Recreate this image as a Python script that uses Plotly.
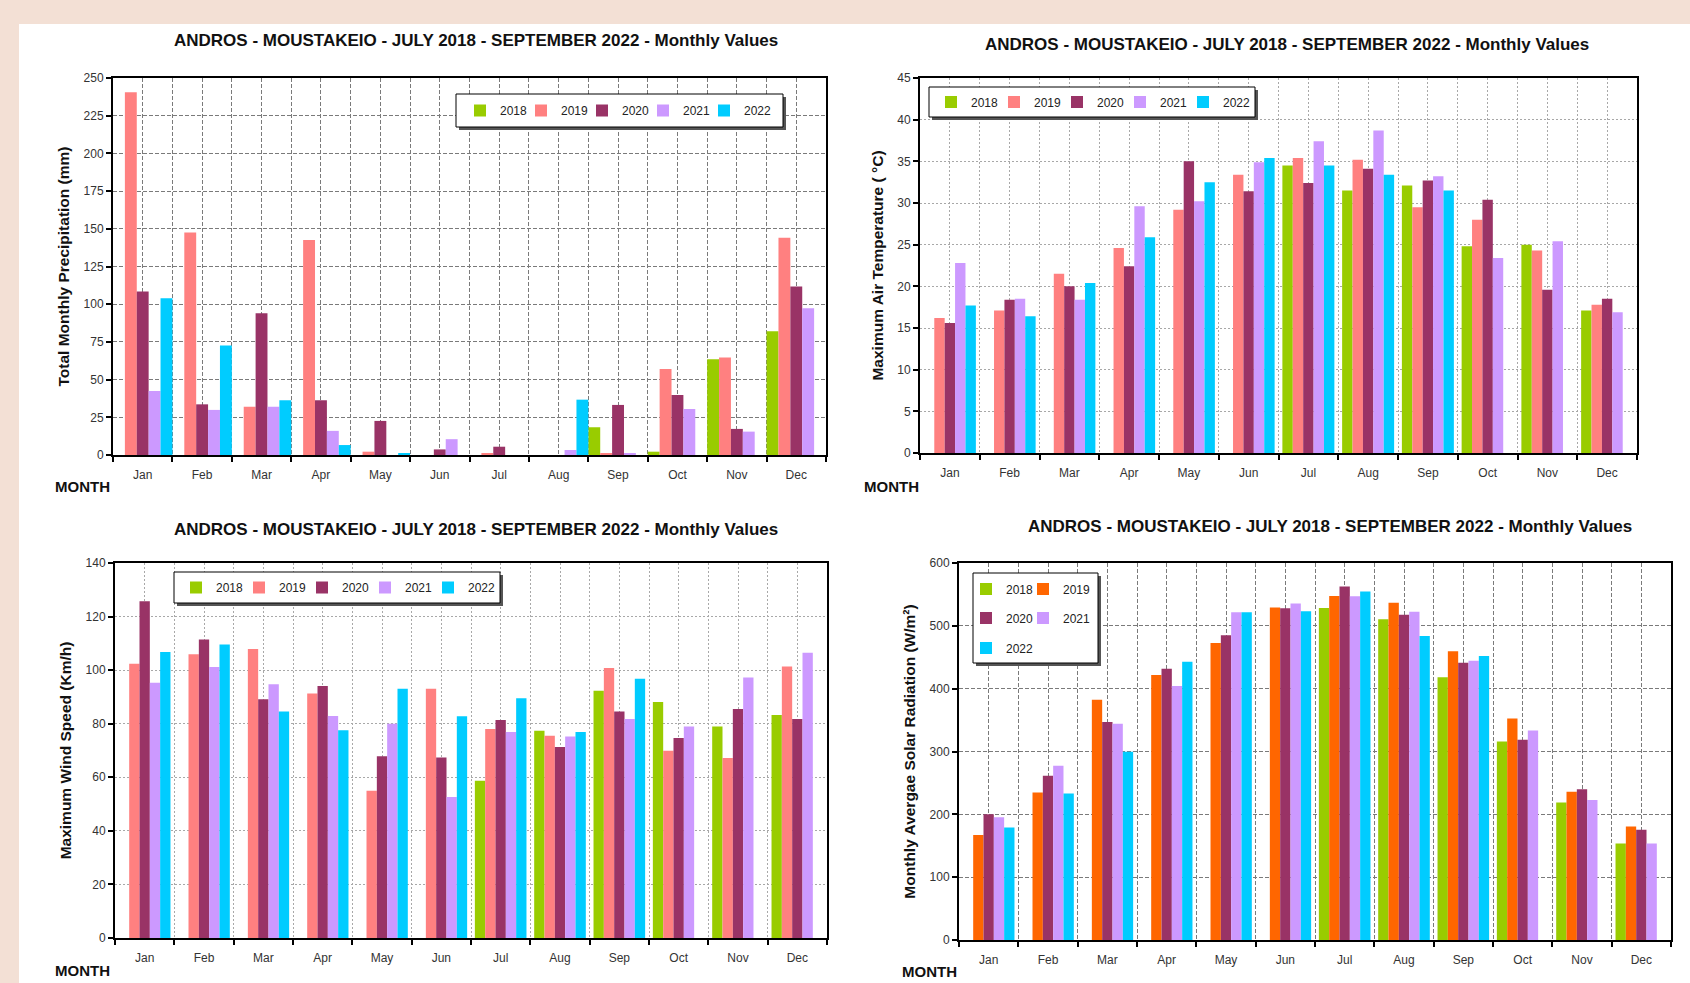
import plotly.graph_objects as go

# ---------------- data ----------------
MONTHS = ["Jan", "Feb", "Mar", "Apr", "May", "Jun", "Jul", "Aug", "Sep", "Oct", "Nov", "Dec"]
YEARS = ["2018", "2019", "2020", "2021", "2022"]
N = None

PRECIP_2018 = [N, N, N, N, N, N, 0, 0, 18.4, 2.2, 63.5, 82.0]
PRECIP_2019 = [240.5, 147.5, 32.0, 142.5, 2.2, 0, 0.7, 0, 1.0, 57.0, 64.6, 144.0]
PRECIP_2020 = [108.4, 33.6, 94.0, 36.3, 22.6, 3.7, 5.5, 0, 33.2, 39.8, 17.3, 111.7]
PRECIP_2021 = [42.5, 29.9, 32.0, 16.0, 0, 10.5, 0, 3.3, 1.0, 30.5, 15.5, 97.3]
PRECIP_2022 = [104.0, 72.6, 36.3, 6.6, 1.2, 0, 0, 36.7, 0, N, N, N]

TEMP_2018 = [N, N, N, N, N, N, 34.5, 31.5, 32.1, 24.8, 25.0, 17.1]
TEMP_2019 = [16.2, 17.1, 21.5, 24.6, 29.2, 33.4, 35.4, 35.2, 29.5, 28.0, 24.3, 17.8]
TEMP_2020 = [15.6, 18.4, 20.0, 22.4, 35.0, 31.4, 32.4, 34.1, 32.7, 30.4, 19.6, 18.5]
TEMP_2021 = [22.8, 18.5, 18.4, 29.6, 30.2, 34.9, 37.4, 38.7, 33.2, 23.4, 25.4, 16.9]
TEMP_2022 = [17.7, 16.4, 20.4, 25.9, 32.5, 35.4, 34.5, 33.4, 31.5, N, N, N]

WIND_2018 = [N, N, N, N, N, N, 58.7, 77.4, 92.3, 88.1, 79.0, 83.3]
WIND_2019 = [102.4, 105.9, 107.9, 91.3, 55.0, 93.1, 78.0, 75.5, 100.8, 69.9, 67.2, 101.4]
WIND_2020 = [125.7, 111.4, 89.1, 94.1, 67.9, 67.4, 81.4, 71.3, 84.6, 74.7, 85.5, 81.8]
WIND_2021 = [95.3, 101.2, 94.7, 82.9, 80.0, 52.6, 76.9, 75.2, 81.8, 79.0, 97.3, 106.5]
WIND_2022 = [106.8, 109.6, 84.6, 77.6, 93.1, 82.8, 89.5, 76.9, 96.8, N, N, N]

SOLAR_2018 = [N, N, N, N, N, N, 528.5, 510.4, 418.0, 316.0, 218.8, 153.5]
SOLAR_2019 = [167.3, 234.7, 382.3, 421.6, 472.6, 529.0, 547.5, 536.9, 459.4, 352.6, 235.8, 180.6]
SOLAR_2020 = [200.2, 261.3, 346.8, 431.7, 484.9, 528.0, 562.5, 517.8, 441.3, 318.6, 240.0, 175.3]
SOLAR_2021 = [195.4, 277.2, 344.1, 404.1, 521.5, 535.5, 547.0, 522.6, 444.5, 333.5, 223.0, 153.5]
SOLAR_2022 = [179.0, 233.1, 299.5, 442.9, 521.5, 523.4, 554.5, 483.8, 452.0, N, N, N]

TITLE = "ANDROS - MOUSTAKEIO - JULY 2018 - SEPTEMBER 2022 - Monthly Values"
Y_TITLES = ["Total Monthly Precipitation (mm)", "Maximum Air Temperature ( °C)",
            "Maximum Wind Speed (Km/h)", "Monthly Avergae Solar Radiation (W/m²)"]

# ---------------- styles ----------------
W, H = 1690, 983
PEACH = "#F3E0D5"
COLORS = ["#99CC00", "#FF8080", "#993366", "#CC99FF", "#00CCFF"]
COLORS_SOLAR = ["#99CC00", "#FF6600", "#993366", "#CC99FF", "#00CCFF"]
FONT = "Liberation Sans, Arial, Helvetica, sans-serif"

X = list(range(len(MONTHS)))


def fx(px):
    return px / W


def fy(py):
    return 1 - py / H


PANELS = [
    dict(series=[PRECIP_2018, PRECIP_2019, PRECIP_2020, PRECIP_2021, PRECIP_2022], colors=COLORS,
         box=(113, 78, 826, 455), ymax=250, dtick=25, group=1.0, grid="#7a7a7a", dash="4px,2px",
         title_xy=(476, 41), month_xy=(82, 486)),
    dict(series=[TEMP_2018, TEMP_2019, TEMP_2020, TEMP_2021, TEMP_2022], colors=COLORS,
         box=(920, 78, 1637, 453), ymax=45, dtick=5, group=0.87, grid="#a8a8a8", dash="2px,2px",
         title_xy=(1287, 44), month_xy=(891, 486)),
    dict(series=[WIND_2018, WIND_2019, WIND_2020, WIND_2021, WIND_2022], colors=COLORS,
         box=(115, 563, 827, 938), ymax=140, dtick=20, group=0.87, grid="#a8a8a8", dash="2px,2px",
         title_xy=(476, 529), month_xy=(82, 970)),
    dict(series=[SOLAR_2018, SOLAR_2019, SOLAR_2020, SOLAR_2021, SOLAR_2022], colors=COLORS_SOLAR,
         box=(959, 563, 1671, 940), ymax=600, dtick=100, group=0.87, grid="#7a7a7a", dash="4px,2px",
         title_xy=(1330, 526), month_xy=(929, 971)),
]

# legend name for each (panel, year)
LEG = [["legend"] * 5, ["legend2"] * 5, ["legend3"] * 5,
       ["legend4", "legend4", "legend5", "legend5", "legend6"]]
LAST_IN_LEGEND = [[4], [4], [4], [1, 3, 4]]

fig = go.Figure()
layout = dict(width=W, height=H, margin=dict(l=0, r=0, t=0, b=0, autoexpand=False),
              paper_bgcolor=PEACH, plot_bgcolor="white", barmode="overlay",
              font=dict(family=FONT, size=12, color="#333"), showlegend=True)

annotations = []
shapes = [dict(type="rect", xref="paper", yref="paper", x0=fx(19), x1=1.0, y0=0, y1=fy(24),
               fillcolor="white", line=dict(width=0), layer="below")]

for i, p in enumerate(PANELS):
    n = i + 1
    xa = "x" if n == 1 else f"x{n}"
    ya = "y" if n == 1 else f"y{n}"
    xkey = "xaxis" if n == 1 else f"xaxis{n}"
    ykey = "yaxis" if n == 1 else f"yaxis{n}"
    x0, y0, x1, y1 = p["box"]
    g = p["group"]
    bw = g / len(YEARS)
    for k, (yr, vals) in enumerate(zip(YEARS, p["series"])):
        extra = dict(legendwidth=30) if k in LAST_IN_LEGEND[i] else {}
        fig.add_trace(go.Bar(
            x=X, y=vals, name=yr, xaxis=xa, yaxis=ya,
            width=bw, offset=-g / 2 + k * bw,
            marker=dict(color=p["colors"][k], line=dict(width=0)), opacity=1,
            legend=LEG[i][k], showlegend=True, **extra,
        ))
    layout[xkey] = dict(
        domain=[fx(x0), fx(x1)], anchor=ya, range=[-0.5, len(MONTHS) - 0.5], automargin=False,
        tickmode="array", tickvals=X, ticktext=MONTHS, ticks="",
        showgrid=True, gridcolor=p["grid"], griddash=p["dash"], gridwidth=1,
        minor=dict(tickmode="linear", tick0=-0.5, dtick=1, ticks="outside", ticklen=5,
                   tickcolor="black", tickwidth=1.5, showgrid=True, gridcolor=p["grid"],
                   griddash=p["dash"], gridwidth=1),
        showline=True, linecolor="black", linewidth=2, mirror=True, zeroline=False,
        tickfont=dict(size=12, color="#333"), ticklabelstandoff=8, fixedrange=True,
    )
    layout[ykey] = dict(
        domain=[fy(y1), fy(y0)], anchor=xa, range=[0, p["ymax"]], tick0=0, dtick=p["dtick"],
        automargin=False,
        showgrid=True, gridcolor=p["grid"], griddash=p["dash"], gridwidth=1,
        ticks="outside", ticklen=5, tickcolor="black", tickwidth=1.5,
        showline=True, linecolor="black", linewidth=2, mirror=True, zeroline=False,
        tickfont=dict(size=12, color="#333"),
        title=dict(text=Y_TITLES[i], font=dict(size=15.5, color="#111", family=FONT, weight="bold"),
                   standoff=10),
        fixedrange=True,
    )
    tx, ty = p["title_xy"]
    annotations.append(dict(text="<b>" + TITLE + "</b>", x=fx(tx), y=fy(ty), xref="paper", yref="paper",
                            showarrow=False, xanchor="center", yanchor="middle",
                            font=dict(family=FONT, size=17, color="#111")))
    mx, my = p["month_xy"]
    annotations.append(dict(text="<b>MONTH</b>", x=fx(mx), y=fy(my), xref="paper", yref="paper",
                            showarrow=False, xanchor="center", yanchor="middle",
                            font=dict(family=FONT, size=15, color="#111")))

# legend frames (shadow + box)
FRAMES = [(456, 94, 783, 127), (929, 87, 1255, 117), (174, 572, 500, 603), (973, 573, 1098, 663)]
for (a, b, c, d) in FRAMES:
    shapes.append(dict(type="rect", xref="paper", yref="paper", x0=fx(a + 3), x1=fx(c + 3),
                       y0=fy(d + 3), y1=fy(b + 3), fillcolor="#555", line=dict(width=0), layer="above"))
    shapes.append(dict(type="rect", xref="paper", yref="paper", x0=fx(a), x1=fx(c),
                       y0=fy(d), y1=fy(b), fillcolor="white", line=dict(color="black", width=1),
                       layer="above"))

LEGENDS = {
    "legend": (460, 110.5, 16),
    "legend2": (931, 102, 18),
    "legend3": (176, 587.5, 18),
    "legend4": (966, 589, 12),
    "legend5": (966, 618, 12),
    "legend6": (966, 648, 12),
}
for key, (lx, ly, ew) in LEGENDS.items():
    layout[key] = dict(x=fx(lx), y=fy(ly), xref="paper", yref="paper", xanchor="left", yanchor="middle",
                       orientation="h", bgcolor="rgba(0,0,0,0)", borderwidth=0,
                       entrywidth=ew, entrywidthmode="pixels", itemwidth=30,
                       font=dict(size=12, color="#222", family=FONT), traceorder="normal",
                       itemclick=False, itemdoubleclick=False)

layout["annotations"] = annotations
layout["shapes"] = shapes
fig.update_layout(**layout)

fig.write_html(
    "out.html",
    include_plotlyjs=True,
    config={"displayModeBar": False},
    post_script="document.body.style.margin='0';document.body.style.overflow='hidden';",
)
